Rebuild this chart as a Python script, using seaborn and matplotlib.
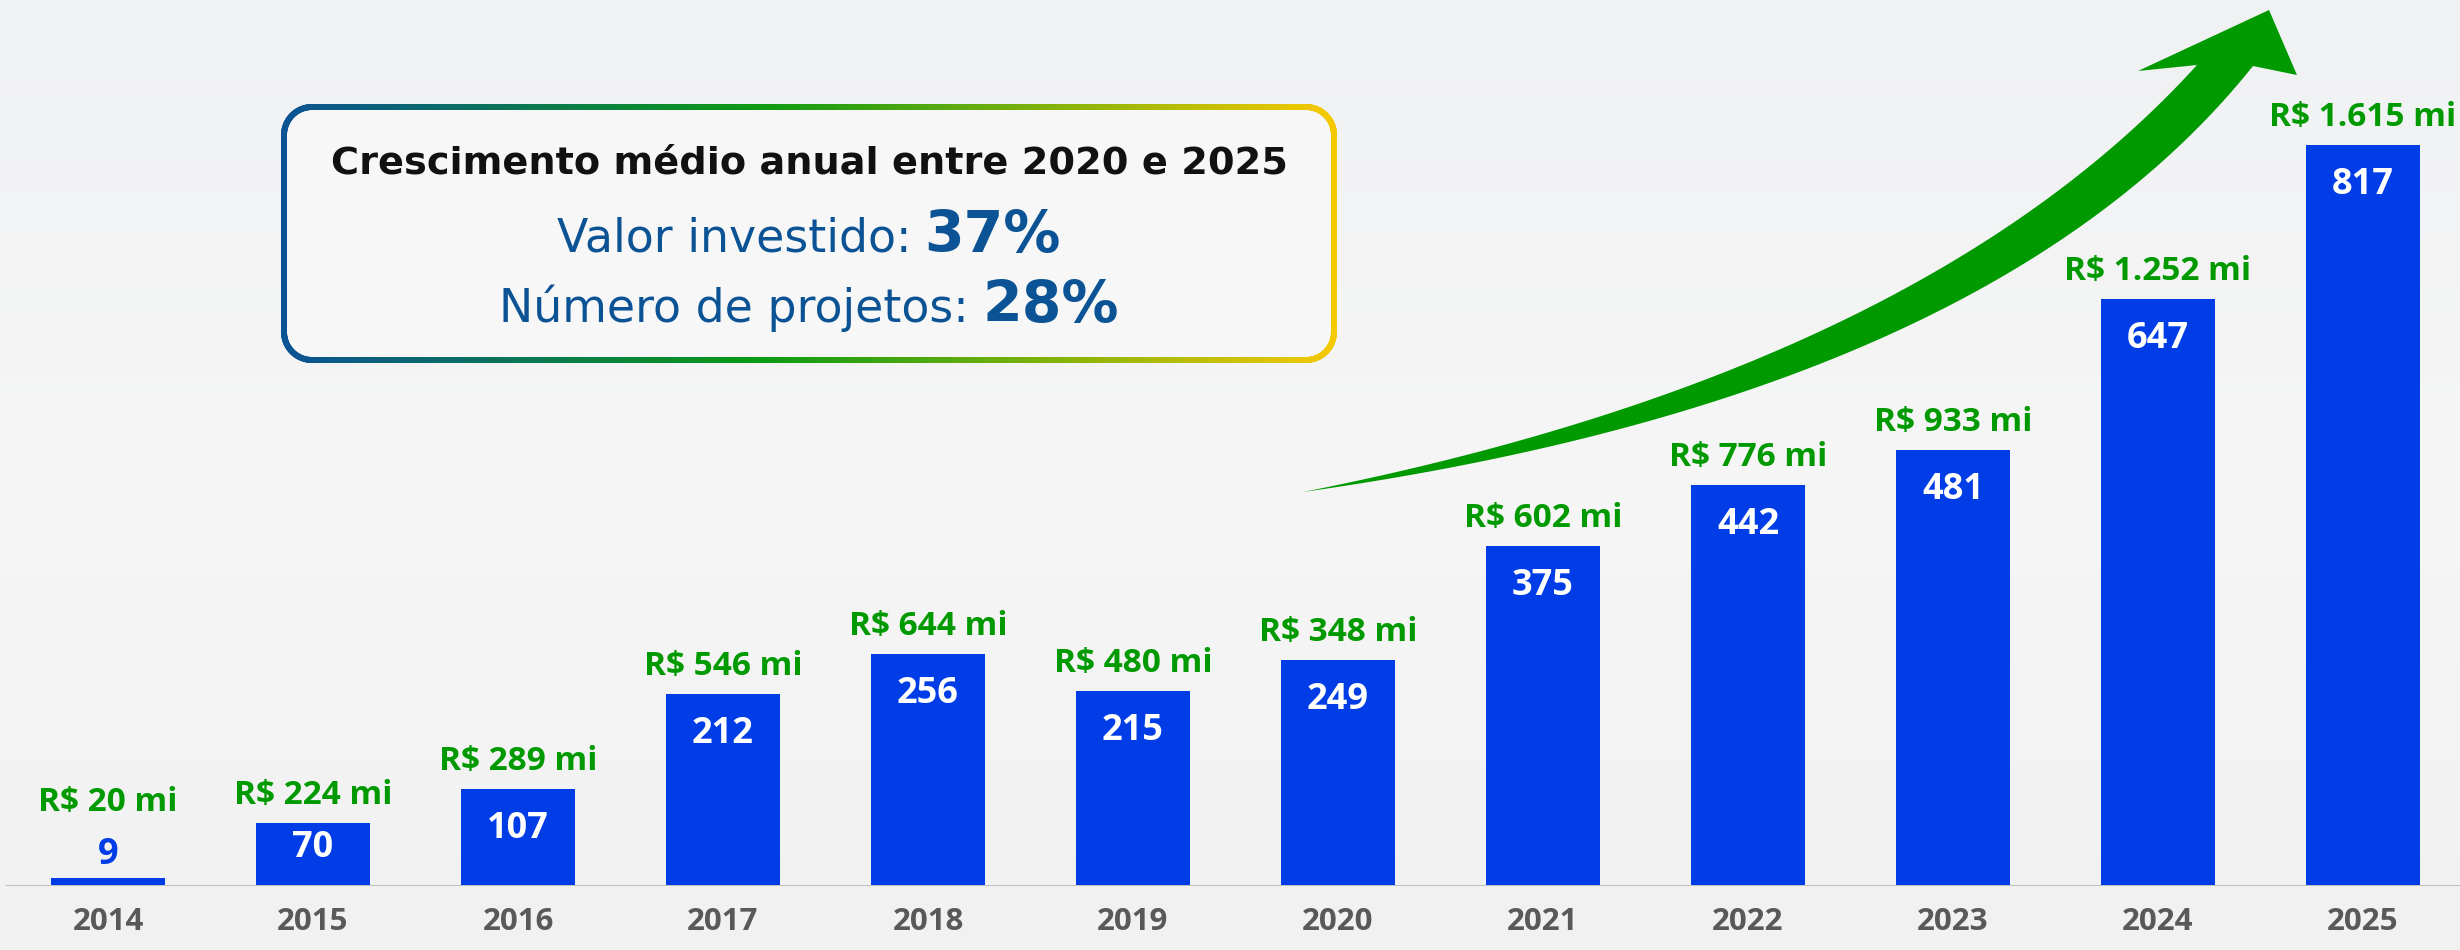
import numpy as np
import pandas as pd
import matplotlib
matplotlib.use("Agg")
import matplotlib.pyplot as plt
import seaborn as sns
from matplotlib.collections import LineCollection
from matplotlib.colors import LinearSegmentedColormap
from matplotlib.patches import Polygon

# --- dados ---
anos = ['2014', '2015', '2016', '2017', '2018', '2019',
        '2020', '2021', '2022', '2023', '2024', '2025']
projetos = [9, 70, 107, 212, 256, 215, 249, 375, 442, 481, 647, 817]
valores_mi = [20, 224, 289, 546, 644, 480, 348, 602, 776, 933, 1252, 1615]

titulo_box = "Crescimento médio anual entre 2020 e 2025"
cresc_labels = ["Valor investido:", "Número de projetos:"]
cresc_valores = [37, 28]

# --- estilo ---
AZUL = '#003de6'
VERDE = '#009a00'
AZUL_TXT = '#0b5394'
CINZA = '#595959'
FUNDO = '#f3f3f3'

W, H, DPI = 2460, 950, 100
PX = 72 / DPI  # pontos por pixel

sns.set_style("white")
plt.rcParams['font.family'] = ['Open Sans', 'DejaVu Sans']

df = pd.DataFrame({'ano': anos, 'projetos': projetos, 'valor': valores_mi})

fig = plt.figure(figsize=(W / DPI, H / DPI), dpi=DPI, facecolor=FUNDO)

# fundo com leve gradiente
bg = fig.add_axes([0, 0, 1, 1], zorder=-1)
grad = LinearSegmentedColormap.from_list('bg', ['#f0f1f3', '#f6f6f6', '#f1f1f1'])
bg.imshow(np.linspace(0, 1, 256)[:, None], aspect='auto', cmap=grad, extent=[0, 1, 0, 1], origin='upper')
bg.axis('off')

# --- barras ---
ax = fig.add_axes([0, 64 / H, 1, 886 / H])
ax.set_facecolor('none')
sns.barplot(data=df, x='ano', y='projetos', color=AZUL, saturation=1,
            width=0.556, linewidth=0, ax=ax, zorder=2)

ax.set_xlim(-108 / 205, (W - 108) / 205)
ax.set_ylim(0, 886 / (741 / 817))
sns.despine(ax=ax, left=True, bottom=True)
ax.set_yticks([])
ax.set_xlabel('')
ax.set_ylabel('')
ax.axhline(0, xmin=6 / W, xmax=1, color='#c0c0c0', lw=3 * PX, zorder=3)

ax.tick_params(axis='x', length=0, pad=15, labelsize=22.5, labelcolor=CINZA)
for lbl in ax.get_xticklabels():
    lbl.set_fontweight('bold')

for i, (p, v) in enumerate(zip(projetos, valores_mi)):
    texto_valor = f"R$ {v:,} mi".replace(',', '.')
    if p < 30:
        # barra muito baixa: numero acima da barra
        ax.annotate(str(p), (i, p), xytext=(0, 14 * PX), textcoords='offset points',
                    ha='center', va='baseline', color=AZUL, fontsize=26, fontweight='bold')
        off_verde = 67
    else:
        gap = 22 if p >= 100 else 7
        ax.annotate(str(p), (i, p), xytext=(0, -gap * PX), textcoords='offset points',
                    ha='center', va='top', color='white', fontsize=26, fontweight='bold')
        off_verde = 19
    ax.annotate(texto_valor, (i, p), xytext=(0, off_verde * PX), textcoords='offset points',
                ha='center', va='baseline', color=VERDE, fontsize=24, fontweight='bold')

# --- camada de anotacoes (coordenadas em pixels) ---
ov = fig.add_axes([0, 0, 1, 1], zorder=5)
ov.set_xlim(0, W)
ov.set_ylim(H, 0)
ov.axis('off')


def caixa_arredondada(x0, y0, x1, y1, r, n=30):
    cantos = [((x0 + r, y0 + r), 180, 270), ((x1 - r, y0 + r), 270, 360),
              ((x1 - r, y1 - r), 0, 90), ((x0 + r, y1 - r), 90, 180)]
    pts = []
    for (cx, cy), a0, a1 in cantos:
        a = np.radians(np.linspace(a0, a1, n))
        pts.append(np.column_stack([cx + r * np.cos(a), cy + r * np.sin(a)]))
    pts = np.vstack(pts + [pts[0][:1]])
    # densificar para o gradiente da borda
    d = np.concatenate([[0], np.cumsum(np.hypot(*np.diff(pts, axis=0).T))])
    s = np.linspace(0, d[-1], 3000)
    return np.column_stack([np.interp(s, d, pts[:, 0]), np.interp(s, d, pts[:, 1])])


bx0, by0, bx1, by1 = 284, 107, 1334, 360
borda = caixa_arredondada(bx0, by0, bx1, by1, 28)
ov.add_patch(Polygon(borda, closed=True, fc='#f7f7f7', ec='none', zorder=1))
cmap_borda = LinearSegmentedColormap.from_list(
    'borda', [(0, '#0b5394'), (0.45, '#0a9a14'), (1, '#f5c900')])
segs = np.stack([borda[:-1], borda[1:]], axis=1)
xm = (segs[:, 0, 0] + segs[:, 1, 0]) / 2
lc = LineCollection(segs, colors=cmap_borda((xm - bx0) / (bx1 - bx0)),
                    linewidths=6 * PX, capstyle='round', zorder=2)
ov.add_collection(lc)

cx = (bx0 + bx1) / 2
ov.text(cx, 173, titulo_box, ha='center', va='baseline', fontsize=27.5,
        family='DejaVu Sans', fontweight='bold', color='#111111', zorder=3)

renderer = fig.canvas.get_renderer()
for label, val, base in zip(cresc_labels, cresc_valores, [252, 322]):
    t1 = ov.text(0, base, label, ha='left', va='baseline', fontsize=33,
                 family='DejaVu Sans', color=AZUL_TXT, zorder=3)
    t2 = ov.text(0, base, f"{val}%", ha='left', va='baseline', fontsize=41,
                 family='DejaVu Sans', fontweight='bold', color=AZUL_TXT, zorder=3)
    w1 = t1.get_window_extent(renderer).width
    w2 = t2.get_window_extent(renderer).width
    x0 = cx - (w1 + 13 + w2) / 2
    t1.set_x(x0)
    t2.set_x(x0 + w1 + 13)


# --- seta de crescimento ---
def bezier(p0, c, p2, t):
    p0, c, p2 = map(np.asarray, (p0, c, p2))
    t = t[:, None]
    return (1 - t) ** 2 * p0 + 2 * (1 - t) * t * c + t ** 2 * p2


t = np.linspace(0, 1, 200)
cauda = (1303, 492)
entalhe_e, entalhe_d = (2197, 65), (2253, 66)
borda_e = bezier(cauda, (1920, 370), entalhe_e, t)
borda_d = bezier(cauda, (1990, 395), entalhe_d, t)
cabeca = np.array([entalhe_e, (2138, 71), (2269, 10), (2297, 75), entalhe_d])
seta = np.vstack([borda_e, cabeca, borda_d[::-1]])
ov.add_patch(Polygon(seta, closed=True, fc=VERDE, ec='none', zorder=4))

fig.savefig('out.png', dpi=DPI, facecolor=FUNDO)
